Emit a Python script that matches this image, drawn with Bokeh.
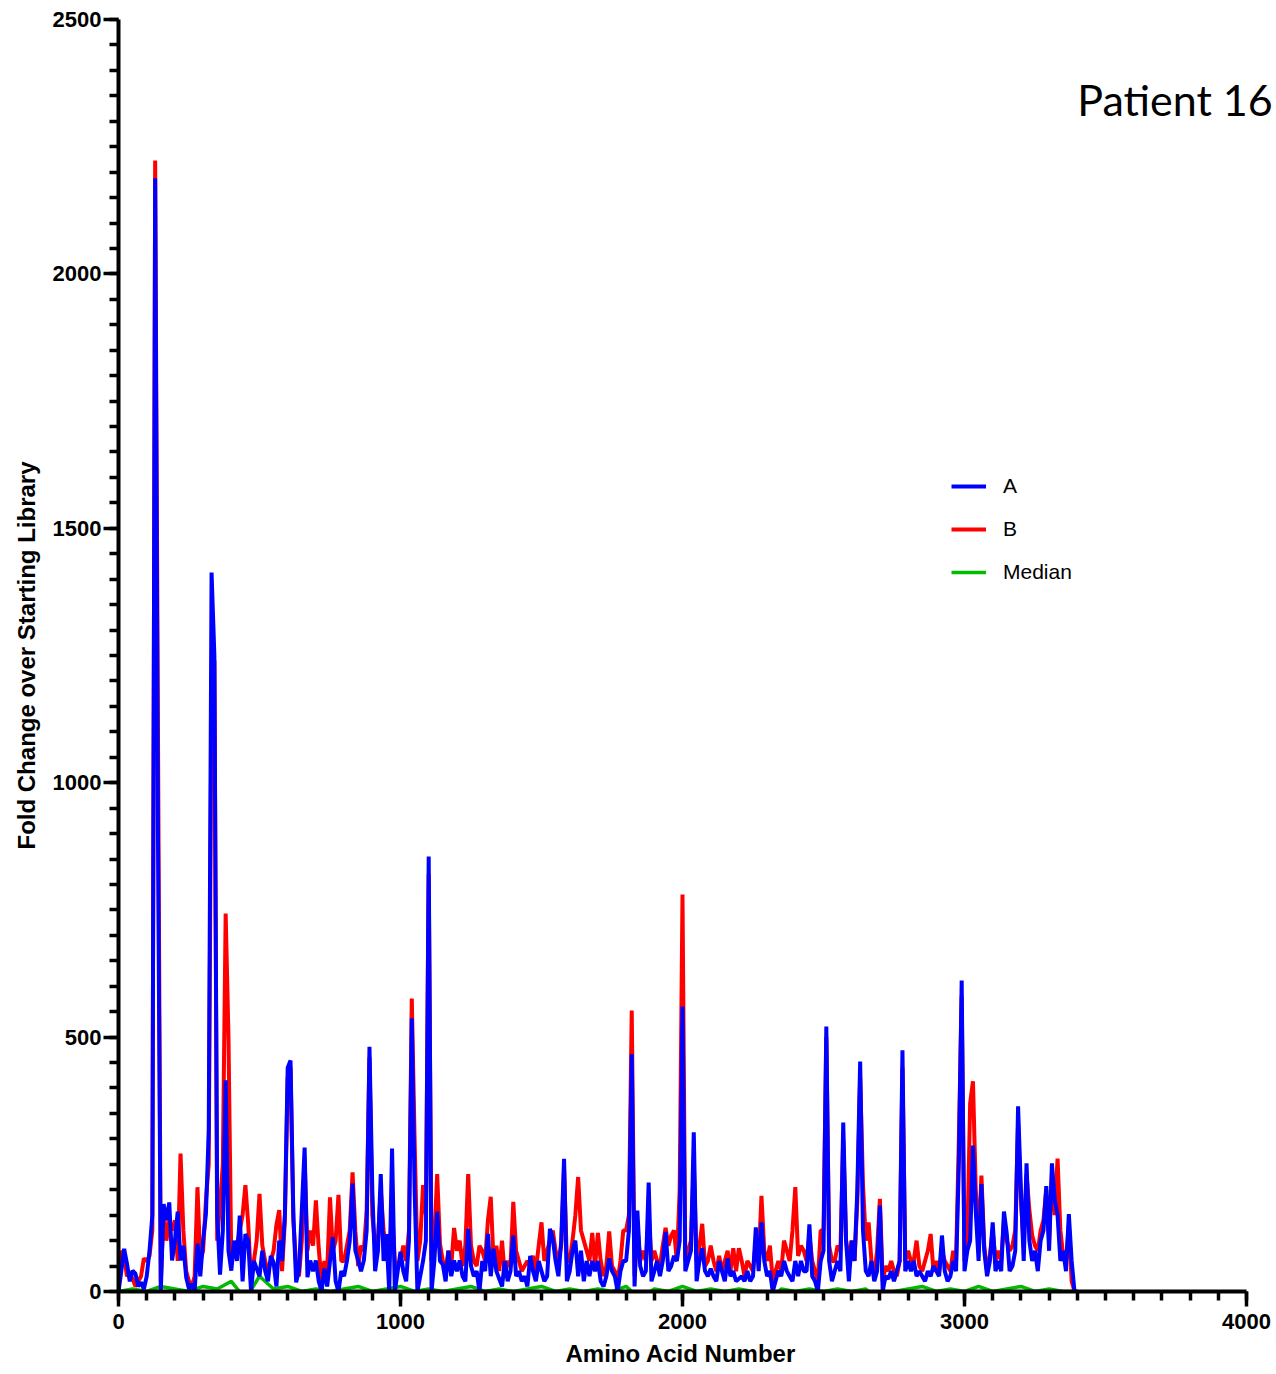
from bokeh.plotting import figure
from bokeh.models import Range1d, Label, Legend, LegendItem, FixedTicker, Title
from bokeh.embed import file_html
from bokeh.resources import INLINE

# ---- data ----
aa_step = 10
series_a = [
    0, 40, 84, 55, 20, 41, 35, 10, 18, 5,
    30, 80, 150, 2188, 900, 0, 172, 140, 175, 61,
    100, 157, 61, 90, 28, 5, 15, 0, 94, 30,
    100, 152, 316, 1413, 1250, 150, 33, 120, 415, 80,
    41, 100, 60, 149, 20, 113, 100, 0, 60, 45,
    30, 80, 41, 20, 70, 57, 10, 100, 60, 152,
    440, 454, 152, 18, 41, 160, 283, 28, 61, 40,
    61, 20, 0, 45, 10, 60, 107, 20, 0, 40,
    30, 60, 100, 212, 80, 61, 40, 61, 120, 481,
    200, 40, 80, 231, 60, 113, 0, 281, 0, 40,
    78, 40, 20, 100, 537, 200, 0, 30, 60, 100,
    855, 0, 60, 157, 60, 53, 20, 80, 30, 61,
    40, 61, 30, 20, 123, 50, 30, 40, 0, 60,
    40, 113, 30, 84, 40, 25, 10, 60, 20, 40,
    110, 30, 40, 20, 30, 10, 70, 40, 20, 60,
    40, 20, 30, 123, 104, 60, 30, 100, 261, 20,
    40, 80, 100, 30, 80, 20, 60, 30, 60, 40,
    60, 20, 10, 30, 65, 40, 30, 0, 40, 60,
    60, 120, 466, 10, 159, 50, 30, 40, 214, 20,
    40, 60, 30, 60, 117, 40, 50, 70, 60, 100,
    560, 40, 60, 80, 313, 20, 60, 85, 40, 30,
    45, 30, 20, 60, 40, 20, 65, 30, 40, 20,
    25, 30, 20, 40, 20, 30, 126, 40, 136, 60,
    30, 40, 0, 20, 41, 30, 60, 40, 30, 20,
    60, 30, 60, 40, 40, 132, 30, 20, 0, 60,
    80, 521, 60, 20, 41, 60, 40, 332, 100, 20,
    100, 60, 200, 452, 120, 40, 30, 60, 20, 40,
    169, 0, 30, 25, 40, 20, 40, 60, 474, 40,
    60, 40, 60, 30, 40, 30, 20, 40, 30, 50,
    40, 30, 110, 40, 20, 30, 60, 40, 250, 611,
    40, 80, 100, 287, 157, 60, 211, 80, 30, 60,
    136, 40, 60, 40, 157, 113, 40, 50, 80, 364,
    200, 60, 252, 100, 60, 80, 40, 100, 120, 207,
    80, 252, 180, 150, 60, 80, 40, 152, 60, 0,
    0,
]
series_b = [
    0, 80, 70, 30, 35, 25, 10, 20, 30, 65,
    60, 70, 120, 2223, 1100, 20, 160, 100, 140, 120,
    140, 60, 271, 120, 40, 20, 10, 30, 205, 60,
    80, 179, 250, 1200, 1240, 100, 172, 250, 743, 500,
    60, 85, 90, 120, 150, 209, 133, 20, 60, 100,
    192, 90, 60, 40, 60, 80, 131, 160, 40, 140,
    420, 440, 140, 50, 30, 100, 260, 80, 120, 90,
    179, 85, 20, 60, 40, 185, 80, 100, 190, 60,
    60, 90, 120, 234, 118, 50, 90, 80, 160, 460,
    150, 90, 100, 200, 120, 80, 60, 160, 60, 50,
    60, 90, 60, 120, 576, 300, 60, 100, 209, 150,
    820, 60, 100, 231, 94, 60, 40, 80, 50, 125,
    80, 100, 50, 90, 231, 90, 60, 50, 90, 80,
    60, 140, 186, 60, 90, 40, 100, 30, 60, 50,
    176, 80, 60, 40, 50, 60, 50, 70, 40, 90,
    136, 60, 80, 100, 120, 80, 60, 90, 240, 60,
    60, 100, 150, 225, 120, 100, 80, 60, 115, 50,
    115, 60, 30, 50, 118, 50, 40, 20, 60, 120,
    120, 150, 552, 30, 130, 60, 80, 60, 150, 60,
    80, 60, 50, 90, 125, 90, 110, 120, 60, 200,
    780, 60, 80, 100, 250, 60, 90, 133, 50, 60,
    90, 60, 40, 70, 40, 60, 80, 40, 85, 40,
    85, 60, 30, 60, 50, 40, 100, 60, 188, 80,
    60, 90, 20, 40, 60, 40, 100, 80, 60, 120,
    205, 70, 90, 80, 60, 110, 60, 40, 20, 120,
    120, 500, 90, 60, 60, 90, 80, 300, 100, 60,
    100, 60, 180, 420, 211, 100, 136, 60, 30, 80,
    182, 20, 50, 40, 60, 40, 30, 60, 440, 60,
    80, 60, 60, 100, 50, 40, 60, 80, 113, 40,
    60, 40, 80, 60, 50, 40, 80, 60, 300, 580,
    60, 100, 370, 413, 200, 100, 228, 90, 40, 70,
    120, 60, 80, 60, 140, 100, 80, 90, 120, 330,
    180, 90, 230, 160, 110, 90, 80, 120, 140, 200,
    100, 230, 150, 261, 120, 70, 60, 130, 20, 0,
    0,
]
median_step = 50
series_median = [
    0, 5, 0, 10, 5, 0, 10, 5, 20, -15,
    30, 5, 10, 0, 5, 0, 5, 10, 0, 5,
    10, 0, 5, 0, 5, 10, 0, 5, 0, 5,
    10, 0, 5, 0, 5, 0, 10, -15, 5, 0,
    10, 0, 5, 0, 5, 0, -20, 5, 0, 5,
    0, 5, 0, 5, -20, 0, 5, 10, 0, 5,
    0, 10, 0, 5, 10, 0, 5, 0, 0,
]
series_names = ["A", "B", "Median"]
series_colors = ["#0000FF", "#FF0000", "#00BB00"]
x_ticks = [0, 1000, 2000, 3000, 4000]
y_ticks = [0, 500, 1000, 1500, 2000, 2500]
title_text = "Patient 16"
x_label = "Amino Acid Number"
y_label = "Fold Change over Starting Library"

x_ab = [i * aa_step for i in range(len(series_a))]
x_med = [i * median_step for i in range(len(series_median))]

# layout: frame from px 118 (x=0) to window edge; x=4000 lands at px 1246
W, H = 1276, 1374
LEFT, TOP, BOTTOM_PX, X_END_PX = 118, 19, 1291, 1246
x_end = x_ticks[-1] * (W - LEFT) / (X_END_PX - LEFT)

p = figure(width=W, height=H, output_backend="svg", toolbar_location=None,
           x_range=Range1d(0, x_end), y_range=Range1d(0, y_ticks[-1]),
           min_border_left=LEFT, min_border_right=0, min_border_top=TOP,
           min_border_bottom=H - BOTTOM_PX)
p.outline_line_color = None
p.grid.grid_line_color = None
p.background_fill_color = "white"
p.border_fill_color = "white"

r_med = p.line(x_med, series_median, line_color=series_colors[2], line_width=3.5, line_join="bevel")
r_b = p.line(x_ab, series_b, line_color=series_colors[1], line_width=4, line_join="bevel")
r_a = p.line(x_ab, series_a, line_color=series_colors[0], line_width=4, line_join="bevel")

for ax, ticks in ((p.xaxis[0], x_ticks), (p.yaxis[0], y_ticks)):
    ax.ticker = FixedTicker(ticks=ticks,
                            minor_ticks=list(range(0, ticks[-1] + 1, (ticks[1] - ticks[0]) // 10)))
    ax.bounds = (ticks[0], ticks[-1])
    ax.axis_line_width = 4
    ax.axis_line_color = "black"
    ax.major_tick_line_width = 3.5
    ax.minor_tick_line_width = 3.5
    ax.major_tick_in = 0
    ax.minor_tick_in = 0
    ax.major_tick_out = 15
    ax.minor_tick_out = 9
    ax.major_label_text_font = "Liberation Sans"
    ax.major_label_text_font_style = "bold"
    ax.major_label_text_font_size = "22px"
    ax.major_label_text_color = "black"
    ax.axis_label_text_font = "Liberation Sans"
    ax.axis_label_text_font_style = "bold"
    ax.axis_label_text_font_size = "24px"
    ax.axis_label_text_color = "black"

p.xaxis.major_label_standoff = 7
p.yaxis.axis_label = y_label
p.yaxis.major_label_standoff = 2
p.yaxis.axis_label_standoff = 10

# x-axis label centred on the 0..4000 axis (the frame extends further right)
x_title = Title(text=x_label, align="left", offset=(X_END_PX + LEFT) / 2 - LEFT - 117,
                text_font="Liberation Sans", text_font_style="bold",
                text_font_size="24px", text_color="black", standoff=13)
p.add_layout(x_title, "below")

legend = Legend(items=[LegendItem(label=series_names[0], renderers=[r_a]),
                       LegendItem(label=series_names[1], renderers=[r_b]),
                       LegendItem(label=series_names[2], renderers=[r_med])],
                location=(833, 707), orientation="vertical",
                glyph_width=35, glyph_height=20, label_height=20,
                label_standoff=17, spacing=19, padding=0, margin=0,
                border_line_color=None, background_fill_alpha=0,
                label_text_font="Liberation Sans", label_text_font_size="21px",
                label_text_color="black")
p.add_layout(legend)

p.add_layout(Label(x=3400, y=2342, text=title_text, text_font="Lato",
                   text_font_size="43px", text_color="black",
                   text_baseline="alphabetic", text_align="left"))

open("out.html", "w").write(file_html(p, INLINE))
